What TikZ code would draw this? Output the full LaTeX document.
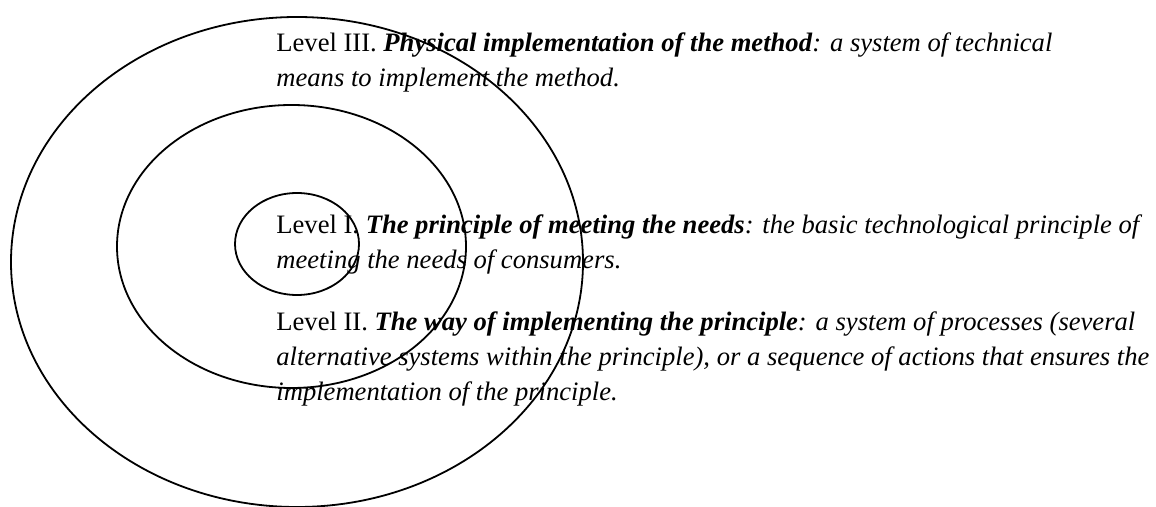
\documentclass[tikz,border=0pt]{standalone}
\usepackage{fontspec}
\setmainfont{Liberation Serif}
\usetikzlibrary{positioning}
\tikzset{
ring/.style={draw,line width=0.9pt},
leveltext/.style={anchor=north west,inner sep=0pt,align=left,font=\fontsize{13.3}{17.5}\selectfont}
}

\begin{document}
\begin{tikzpicture}[x=0.5pt,y=-0.5pt]
\useasboundingbox (0,0) rectangle (1156,507);
%%% rings
\draw[ring] (297,262) ellipse [x radius=143pt, y radius=122.5pt];
\draw[ring] (291.5,246.5) ellipse [x radius=87.25pt, y radius=70.75pt];
\draw[ring] (297,244) ellipse [x radius=31pt, y radius=25.5pt];
%%% level texts
\node[leveltext] (lev3) at (276,32.5) {Level III. \textbf{\textit{Physical implementation of the method}}\textit{: a system of technical}\\
  \textit{means to implement the method.}};
\node[leveltext] (lev1) at (276,214.5) {Level I. \textbf{\textit{The principle of meeting the needs}}\textit{: the basic technological principle of}\\
  \textit{meeting the needs of consumers.}};
\node[leveltext] (lev2) at (276,311.5) {Level II. \textbf{\textit{The way of implementing the principle}}\textit{: a system of processes (several}\\
  \textit{alternative systems within the principle), or a sequence of actions that ensures the}\\
  \textit{implementation of the principle.}};
\end{tikzpicture}
\end{document}
